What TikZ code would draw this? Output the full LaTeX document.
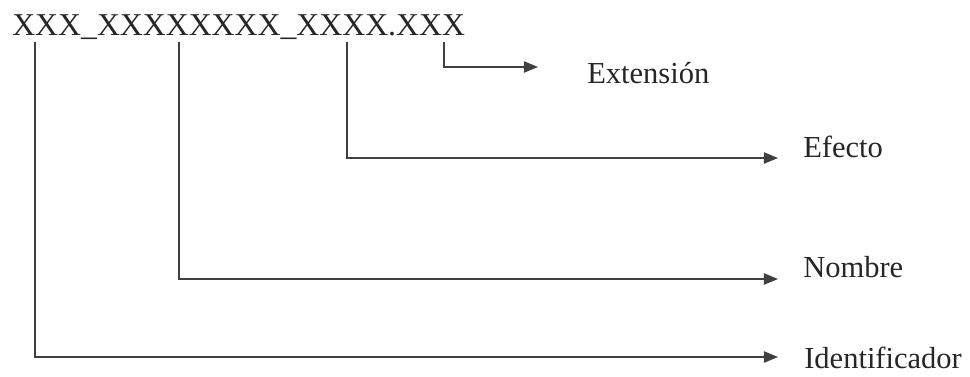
\documentclass[tikz,border=0pt]{standalone}
\usepackage{fontspec}
\setmainfont{Liberation Serif}
\usetikzlibrary{arrows.meta}
\begin{document}
\begin{tikzpicture}[x=0.025cm,y=-0.025cm,
  lbl/.style={anchor=base west,inner sep=0pt,text=black!85,font=\fontsize{21.7}{24}\selectfont},
  conn/.style={draw=black!75,line width=1pt,-{Triangle[length=10pt,width=8pt]}}]
\useasboundingbox (0,0) rectangle (970,376);
\node[anchor=base west,inner sep=0pt,text=black!85,font=\fontsize{22.6}{26}\selectfont] (code) at (12,35) {XXX\_XXXXXXXX\_XXXX.XXX};
\node[lbl] (ext) at (587,83) {Extensión};
\node[lbl] (efe) at (803,157) {Efecto};
\node[lbl] (nom) at (803,277) {Nombre};
\node[lbl] (ide) at (804,368) {Identificador};
\coordinate (s1) at (35,42);
\coordinate (s2) at (179,42);
\coordinate (s3) at (347,42);
\coordinate (s4) at (444,42);
\coordinate (t1) at (778,357);
\coordinate (t2) at (778,279);
\coordinate (t3) at (778,158);
\coordinate (t4) at (538,67);
\draw[conn] (s1) |- (t1);
\draw[conn] (s2) |- (t2);
\draw[conn] (s3) |- (t3);
\draw[conn] (s4) |- (t4);
\end{tikzpicture}
\end{document}
